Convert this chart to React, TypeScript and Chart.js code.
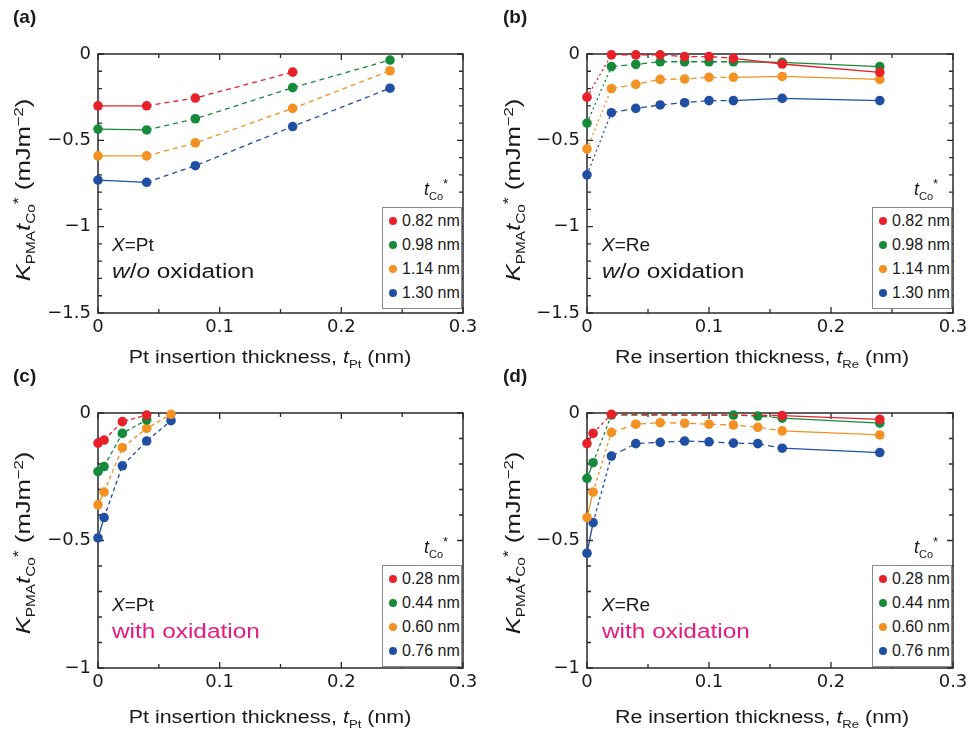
import React, { useEffect, useRef } from "react";
import { Chart, registerables } from "chart.js";

Chart.register(...registerables);

// ---------- data ----------
const SERIES_COLORS = ["#e8202a", "#168a3a", "#f39122", "#1f4ea3"];
const X_TICKS = [0, 0.1, 0.2, 0.3];

const LEGEND_WO = ["0.82 nm", "0.98 nm", "1.14 nm", "1.30 nm"];
const LEGEND_WITH = ["0.28 nm", "0.44 nm", "0.60 nm", "0.76 nm"];

// (a) X = Pt, w/o oxidation
const A_X = [0, 0.04, 0.08, 0.16, 0.24];
const A_082 = [-0.3, -0.3, -0.255, -0.105, null];
const A_098 = [-0.435, -0.44, -0.375, -0.195, -0.035];
const A_114 = [-0.59, -0.59, -0.515, -0.315, -0.097];
const A_130 = [-0.73, -0.743, -0.647, -0.42, -0.198];

// (b) X = Re, w/o oxidation
const B_X = [0, 0.02, 0.04, 0.06, 0.08, 0.1, 0.12, 0.16, 0.24];
const B_082 = [-0.25, -0.005, -0.005, -0.005, -0.015, -0.015, -0.025, -0.058, -0.106];
const B_098 = [-0.4, -0.073, -0.06, -0.045, -0.045, -0.045, -0.045, -0.048, -0.073];
const B_114 = [-0.55, -0.2, -0.176, -0.147, -0.145, -0.135, -0.135, -0.13, -0.147];
const B_130 = [-0.7, -0.34, -0.315, -0.295, -0.282, -0.27, -0.27, -0.257, -0.27];

// (c) X = Pt, with oxidation
const C_X = [0, 0.005, 0.02, 0.04, 0.06];
const C_028 = [-0.118, -0.106, -0.034, -0.008, null];
const C_044 = [-0.23, -0.21, -0.08, -0.027, null];
const C_060 = [-0.36, -0.31, -0.136, -0.06, -0.005];
const C_076 = [-0.49, -0.41, -0.207, -0.11, -0.03];

// (d) X = Re, with oxidation
const D_X = [0, 0.005, 0.02, 0.04, 0.06, 0.08, 0.1, 0.12, 0.14, 0.16, 0.24];
const D_028 = [-0.12, -0.08, -0.005, null, null, null, null, null, null, -0.01, -0.025];
const D_044 = [-0.256, -0.195, -0.008, null, null, null, null, -0.008, -0.012, -0.02, -0.04];
const D_060 = [-0.41, -0.31, -0.076, -0.044, -0.038, -0.04, -0.044, -0.047, -0.056, -0.07, -0.086];
const D_076 = [-0.55, -0.43, -0.169, -0.12, -0.115, -0.11, -0.113, -0.118, -0.12, -0.138, -0.155];

const FONT = "'Liberation Sans', Arial, Helvetica, sans-serif";
const TICK_FONT = "'DejaVu Sans', 'Liberation Sans', sans-serif";

type Dash = (ctx: any) => number[];
const dashA: Dash = (c) => (c.p0DataIndex === 0 ? [] : [5, 4]);
const dashB: Dash = (c) => (c.p0DataIndex === 0 ? [2, 3] : c.p0.parsed.x >= 0.12 ? [] : [6, 4]);
const dashC: Dash = (c) => (c.p0DataIndex === 0 ? [] : [4, 3]);
const dashD: Dash = (c) =>
  c.p0DataIndex === 0 ? [] : c.p0DataIndex === 1 ? [3, 3] : c.p0.parsed.x >= 0.16 ? [] : [6, 4];

interface PanelDef {
  key: string;
  left: number;
  top: number;
  xs: number[];
  ys: (number | null)[][];
  labels: string[];
  yMin: number;
  dash: Dash;
  padTop: number;
  padRight: number;
  padBottom: number;
  yWidth: number;
}

const W = 487;
const H = 374;

const PANELS: PanelDef[] = [
  { key: "a", left: 0, top: 0, xs: A_X, ys: [A_082, A_098, A_114, A_130], labels: LEGEND_WO, yMin: -1.5, dash: dashA, padTop: 54, padRight: 24, padBottom: 31, yWidth: 98 },
  { key: "b", left: 487, top: 0, xs: B_X, ys: [B_082, B_098, B_114, B_130], labels: LEGEND_WO, yMin: -1.5, dash: dashB, padTop: 54, padRight: 21, padBottom: 31, yWidth: 100 },
  { key: "c", left: 0, top: 374, xs: C_X, ys: [C_028, C_044, C_060, C_076], labels: LEGEND_WITH, yMin: -1, dash: dashC, padTop: 39, padRight: 24, padBottom: 50, yWidth: 98 },
  { key: "d", left: 487, top: 374, xs: D_X, ys: [D_028, D_044, D_060, D_076], labels: LEGEND_WITH, yMin: -1, dash: dashD, padTop: 39, padRight: 21, padBottom: 50, yWidth: 100 },
];

const framePlugin = {
  id: "frameTicks",
  beforeDatasetsDraw(chart: any) {
    const { ctx, chartArea: a, scales } = chart;
    const xs = scales.x;
    const ys = scales.y;
    ctx.save();
    ctx.strokeStyle = "#2a2a2a";
    ctx.lineWidth = 1.5;
    ctx.strokeRect(a.left, a.top, a.right - a.left, a.bottom - a.top);
    ctx.lineWidth = 1.3;
    const xMin = xs.min, xMax = xs.max;
    for (let i = 0; i <= Math.round((xMax - xMin) / 0.05); i++) {
      const v = xMin + i * 0.05;
      const px = xs.getPixelForValue(v);
      const len = i % 2 === 0 ? 6 : 4;
      ctx.beginPath();
      ctx.moveTo(px, a.bottom);
      ctx.lineTo(px, a.bottom - len);
      ctx.moveTo(px, a.top);
      ctx.lineTo(px, a.top + len);
      ctx.stroke();
    }
    const yMin = ys.min, yMax = ys.max;
    for (let i = 0; i <= Math.round((yMax - yMin) / 0.1); i++) {
      const v = yMin + i * 0.1;
      const py = ys.getPixelForValue(v);
      const len = i % 5 === 0 ? 6 : 4;
      ctx.beginPath();
      ctx.moveTo(a.left, py);
      ctx.lineTo(a.left + len, py);
      ctx.moveTo(a.right, py);
      ctx.lineTo(a.right - len, py);
      ctx.stroke();
    }
    ctx.restore();
  },
};

function fmtY(v: number) {
  if (Math.abs(v) < 1e-9) return "0";
  return "\u2212" + String(Number(Math.abs(v).toFixed(2)));
}

function PanelChart({ p }: { p: PanelDef }) {
  const ref = useRef<HTMLCanvasElement | null>(null);
  useEffect(() => {
    if (!ref.current) return;
    const datasets = p.ys.map((arr, si) => ({
      label: p.labels[si],
      data: p.xs
        .map((x, i) => ({ x, y: arr[i] }))
        .filter((d) => d.y !== null && d.y !== undefined),
      showLine: true,
      borderColor: SERIES_COLORS[si],
      backgroundColor: SERIES_COLORS[si],
      borderWidth: 1.3,
      pointRadius: 4.8,
      pointBorderWidth: 0,
      clip: false as any,
      segment: { borderDash: p.dash },
    }));
    const chart = new Chart(ref.current, {
      type: "scatter",
      data: { datasets: datasets as any },
      options: {
        animation: false,
        responsive: false,
        maintainAspectRatio: false,
        layout: { padding: { top: p.padTop, right: p.padRight, bottom: p.padBottom, left: 0 } },
        plugins: { legend: { display: false }, tooltip: { enabled: false } },
        scales: {
          x: {
            type: "linear",
            min: 0,
            max: 0.3,
            afterFit: (s: any) => { s.height = 30; },
            afterBuildTicks: (s: any) => { s.ticks = X_TICKS.map((v) => ({ value: v })); },
            grid: { display: false, drawTicks: false },
            border: { display: false },
            ticks: {
              padding: 4,
              color: "#1a1a1a",
              font: { family: TICK_FONT, size: 18 },
              callback: (v: any) => (Math.abs(v) < 1e-9 ? "0" : String(Number(Number(v).toFixed(2)))),
            },
          },
          y: {
            type: "linear",
            min: p.yMin,
            max: 0,
            afterFit: (s: any) => { s.width = p.yWidth; },
            grid: { display: false, drawTicks: false },
            border: { display: false },
            ticks: {
              stepSize: 0.5,
              padding: 7,
              color: "#1a1a1a",
              font: { family: TICK_FONT, size: 18 },
              callback: (v: any) => fmtY(Number(v)),
            },
          },
        },
      },
      plugins: [framePlugin],
    });
    return () => chart.destroy();
  }, [p]);
  return (
    <canvas
      ref={ref}
      width={W}
      height={H}
      style={{ position: "absolute", left: p.left, top: p.top, width: W, height: H }}
    />
  );
}

const txt: React.CSSProperties = {
  position: "absolute",
  fontFamily: FONT,
  color: "#1a1a1a",
  whiteSpace: "nowrap",
  lineHeight: 1,
};

function YTitle({ cx, cy }: { cx: number; cy: number }) {
  return (
    <div
      style={{
        ...txt,
        left: cx,
        top: cy,
        fontSize: 20,
        transform: "translate(-50%, -50%) rotate(-90deg) scaleX(1.28)",
      }}
    >
      <i>K</i>
      <sub style={{ fontSize: 12 }}>PMA</sub>
      <i>t</i>
      <sub style={{ fontSize: 12 }}>Co</sub>
      <sup style={{ fontSize: 14 }}>*</sup> (mJm<sup style={{ fontSize: 13 }}>{"\u2212"}2</sup>)
    </div>
  );
}

function XTitle({ cx, cy, el }: { cx: number; cy: number; el: string }) {
  return (
    <div style={{ ...txt, left: cx, top: cy, fontSize: 18, transform: "translate(-50%, -50%) scaleX(1.19)" }}>
      {el} insertion thickness, <i>t</i>
      <sub style={{ fontSize: 11 }}>{el}</sub> (nm)
    </div>
  );
}

function Legend({ left, top, labels }: { left: number; top: number; labels: string[] }) {
  return (
    <>
      <div style={{ ...txt, left: left + 42, top: top - 30, fontSize: 18 }}>
        <i>t</i>
        <sub style={{ fontSize: 11 }}>Co</sub>
        <sup style={{ fontSize: 13 }}>*</sup>
      </div>
      <div
        style={{
          position: "absolute",
          left,
          top,
          width: 80,
          height: 102,
          boxSizing: "border-box",
          border: "1px solid #8a8a8a",
          background: "#fff",
          paddingTop: 1,
        }}
      >
        {labels.map((l, i) => (
          <div key={l} style={{ display: "flex", alignItems: "center", height: 24, whiteSpace: "nowrap" }}>
            <span
              style={{
                display: "inline-block",
                flex: "0 0 auto",
                width: 8,
                height: 8,
                borderRadius: 4,
                background: SERIES_COLORS[i],
                marginLeft: 6,
                marginRight: 5,
              }}
            />
            <span style={{ fontFamily: FONT, fontSize: 16, color: "#1a1a1a", whiteSpace: "nowrap" }}>{l}</span>
          </div>
        ))}
      </div>
    </>
  );
}

function Note({ left, top, el, oxid }: { left: number; top: number; el: string; oxid: boolean }) {
  return (
    <>
      <div style={{ ...txt, left, top, fontSize: 19 }}>
        <i>X</i>={el}
      </div>
      <div
        style={{
          ...txt,
          left,
          top: top + 26,
          fontSize: 20,
          transformOrigin: "0 0",
          transform: "scaleX(1.22)",
          color: oxid ? "#e5197f" : "#1a1a1a",
        }}
      >
        {oxid ? "with oxidation" : (<><i>w</i>/<i>o</i> oxidation</>)}
      </div>
    </>
  );
}

export default function App() {
  useEffect(() => {
    document.body.style.margin = "0";
    document.body.style.background = "#fff";
  }, []);
  return (
    <div style={{ position: "relative", width: 974, height: 748, background: "#fff", overflow: "hidden" }}>
      {PANELS.map((p) => (
        <PanelChart key={p.key} p={p} />
      ))}
      <div style={{ ...txt, left: 13, top: 7, fontSize: 19, fontWeight: "bold" }}>(a)</div>
      <div style={{ ...txt, left: 503, top: 7, fontSize: 19, fontWeight: "bold" }}>(b)</div>
      <div style={{ ...txt, left: 13, top: 366, fontSize: 19, fontWeight: "bold" }}>(c)</div>
      <div style={{ ...txt, left: 503, top: 366, fontSize: 19, fontWeight: "bold" }}>(d)</div>

      <YTitle cx={24} cy={190} />
      <YTitle cx={514} cy={190} />
      <YTitle cx={24} cy={543} />
      <YTitle cx={514} cy={543} />

      <XTitle cx={270} cy={359} el="Pt" />
      <XTitle cx={762} cy={359} el="Re" />
      <XTitle cx={270} cy={719} el="Pt" />
      <XTitle cx={762} cy={719} el="Re" />

      <Legend left={382} top={207} labels={LEGEND_WO} />
      <Legend left={872} top={207} labels={LEGEND_WO} />
      <Legend left={382} top={565} labels={LEGEND_WITH} />
      <Legend left={872} top={565} labels={LEGEND_WITH} />

      <Note left={112} top={235} el="Pt" oxid={false} />
      <Note left={602} top={235} el="Re" oxid={false} />
      <Note left={112} top={595} el="Pt" oxid={true} />
      <Note left={602} top={595} el="Re" oxid={true} />
    </div>
  );
}
